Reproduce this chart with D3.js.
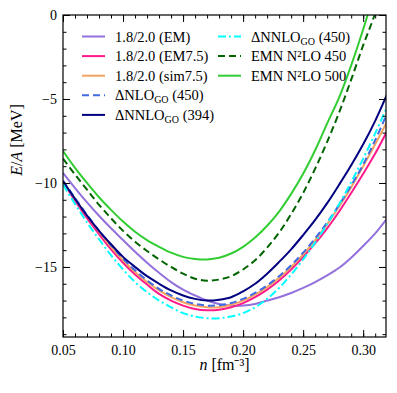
<!DOCTYPE html>
<html>
<head>
<meta charset="utf-8">
<script src="https://cdn.jsdelivr.net/npm/d3@7"></script>
<style>
  body { margin: 0; background: #fff; }
</style>
</head>
<body>
<svg width="397" height="393"></svg>
<script>
// density grid [fm^-3]
var density = [0.05, 0.06, 0.07, 0.08, 0.09, 0.10, 0.11, 0.12, 0.13, 0.14,
               0.15, 0.16, 0.17, 0.18, 0.19, 0.20, 0.21, 0.22, 0.23, 0.24,
               0.25, 0.26, 0.27, 0.28, 0.29, 0.30, 0.31, 0.32];

// E/A [MeV] for each interaction
var em = [-9.4, -10.3, -11.15, -11.95, -12.7, -13.4, -14.1, -14.75, -15.35, -15.9,
          -16.35, -16.7, -17.0, -17.2, -17.3, -17.3, -17.2, -17.0, -16.8, -16.55,
          -16.25, -15.9, -15.5, -15.05, -14.45, -13.75, -13.0, -12.1];
var em75 = [-9.95, -11.05, -12.1, -13.05, -13.95, -14.75, -15.45, -16.05, -16.6, -17.0,
            -17.3, -17.5, -17.58, -17.55, -17.4, -17.15, -16.8, -16.35, -15.8, -15.15,
            -14.4, -13.6, -12.7, -11.7, -10.6, -9.45, -8.25, -6.9];
var sim75 = [-9.9, -10.95, -11.95, -12.9, -13.8, -14.6, -15.3, -15.9, -16.4, -16.8,
             -17.1, -17.3, -17.4, -17.4, -17.25, -17.0, -16.65, -16.2, -15.65, -15.0,
             -14.25, -13.4, -12.45, -11.4, -10.25, -9.0, -7.7, -6.35];
var nlo450 = [-9.85, -10.9, -11.9, -12.85, -13.7, -14.5, -15.2, -15.8, -16.3, -16.7,
              -17.0, -17.2, -17.3, -17.28, -17.15, -16.9, -16.55, -16.1, -15.55, -14.9,
              -14.15, -13.3, -12.35, -11.3, -10.15, -8.9, -7.45, -5.85];
var nnlo394 = [-9.9, -10.95, -11.95, -12.85, -13.65, -14.4, -15.0, -15.55, -16.0, -16.4,
               -16.7, -16.9, -17.0, -16.95, -16.8, -16.45, -16.0, -15.4, -14.7, -13.95,
               -13.1, -12.2, -11.2, -10.1, -8.95, -7.7, -6.3, -4.7];
var nnlo450 = [-10.1, -11.25, -12.35, -13.35, -14.3, -15.15, -15.9, -16.5, -17.0, -17.4,
               -17.75, -17.95, -18.05, -18.05, -17.95, -17.75, -17.4, -16.9, -16.25, -15.45,
               -14.55, -13.55, -12.45, -11.25, -9.95, -8.55, -7.05, -5.45];
var emn450 = [-8.55, -9.5, -10.4, -11.3, -12.1, -12.85, -13.5, -14.05, -14.55, -15.0,
              -15.4, -15.7, -15.82, -15.75, -15.55, -15.15, -14.6, -13.85, -12.95, -11.85,
              -10.6, -9.15, -7.55, -5.8, -3.85, -1.8, 0.1, 2.5];
var emn500 = [-8.1, -9.1, -10.0, -10.85, -11.6, -12.3, -12.9, -13.4, -13.8, -14.15,
              -14.4, -14.52, -14.55, -14.45, -14.2, -13.8, -13.25, -12.55, -11.7, -10.65,
              -9.45, -8.05, -6.45, -4.9, -3.0, -0.85, 1.5, 4.0];

var xTicks = [0.05, 0.10, 0.15, 0.20, 0.25, 0.30];
var yTicks = [0, -5, -10, -15];

var series = [
  {name: "1.8/2.0 (EM)", values: em, color: "#9370db", dash: null},
  {name: "1.8/2.0 (EM7.5)", values: em75, color: "#ff1a8c", dash: null},
  {name: "1.8/2.0 (sim7.5)", values: sim75, color: "#f4a460", dash: null},
  {name: "ΔNLO|GO| (450)", values: nlo450, color: "#4169e1", dash: "7,4"},
  {name: "ΔNNLO|GO| (394)", values: nnlo394, color: "#000080", dash: null},
  {name: "ΔNNLO|GO| (450)", values: nnlo450, color: "#00ffff", dash: "8,3,2,3"},
  {name: "EMN N²LO 450", values: emn450, color: "#006400", dash: "7,4"},
  {name: "EMN N²LO 500", values: emn500, color: "#32cd32", dash: null}
];

var FONT = "'Liberation Serif', 'Times New Roman', Times, serif";

var svg = d3.select("svg"),
    margin = {top: 15, right: 11, bottom: 56, left: 63},
    width = +svg.attr("width") - margin.left - margin.right,
    height = +svg.attr("height") - margin.top - margin.bottom;

var x = d3.scaleLinear().domain([0.05, 0.319]).range([0, width]);
var y = d3.scaleLinear().domain([-19.17, 0]).range([height, 0]);

var g = svg.append("g").attr("transform", "translate(" + margin.left + "," + margin.top + ")");

g.append("clipPath").attr("id", "clip")
  .append("rect").attr("width", width).attr("height", height);

var line = d3.line()
    .x(function(d, i) { return x(density[i]); })
    .y(function(d) { return y(d); })
    .curve(d3.curveCatmullRom);

g.append("g").attr("clip-path", "url(#clip)")
  .selectAll("path")
  .data(series)
  .enter().append("path")
    .attr("d", function(d) { return line(d.values); })
    .attr("fill", "none")
    .attr("stroke", function(d) { return d.color; })
    .attr("stroke-width", 2)
    .attr("stroke-dasharray", function(d) { return d.dash; });

// axes: ticks inward on all four sides
var xMinor = d3.range(5, 32).map(function(v) { return v / 100; });
var yMinor = d3.range(-19, 1);

function styleAxis(sel) {
  sel.select(".domain").remove();
  sel.selectAll("line").attr("stroke", "#000").attr("stroke-width", 1);
}

g.append("g").attr("transform", "translate(0," + height + ")")
  .call(d3.axisBottom(x).tickValues(xMinor).tickSize(-3.5).tickFormat(""))
  .call(styleAxis);
g.append("g")
  .call(d3.axisTop(x).tickValues(xMinor).tickSize(-3.5).tickFormat(""))
  .call(styleAxis);
g.append("g")
  .call(d3.axisLeft(y).tickValues(yMinor).tickSize(-3.5).tickFormat(""))
  .call(styleAxis);
g.append("g").attr("transform", "translate(" + width + ",0)")
  .call(d3.axisRight(y).tickValues(yMinor).tickSize(-3.5).tickFormat(""))
  .call(styleAxis);

g.append("g").attr("transform", "translate(0," + height + ")")
  .call(d3.axisBottom(x).tickValues(xTicks).tickSize(-7).tickPadding(8).tickFormat(d3.format(".2f")))
  .call(styleAxis);
g.append("g")
  .call(d3.axisTop(x).tickValues(xTicks).tickSize(-7).tickFormat(""))
  .call(styleAxis);
g.append("g")
  .call(d3.axisLeft(y).tickValues(yTicks).tickSize(-7).tickPadding(6).tickFormat(function(d) { return d < 0 ? "\u2212" + (-d) : d; }))
  .call(styleAxis);
g.append("g").attr("transform", "translate(" + width + ",0)")
  .call(d3.axisRight(y).tickValues(yTicks).tickSize(-7).tickFormat(""))
  .call(styleAxis);

svg.selectAll(".tick text")
  .attr("font-size", "14px")
  .attr("fill", "#000");

g.append("rect")
  .attr("width", width).attr("height", height)
  .attr("fill", "none").attr("stroke", "#000").attr("stroke-width", 1.2);

// axis labels
var xLab = svg.append("text")
  .attr("x", margin.left + width / 2).attr("y", 370)
  .attr("text-anchor", "middle").attr("font-size", "16px");
xLab.append("tspan").attr("font-style", "italic").text("n");
xLab.append("tspan").text(" [fm\u207B\u00B3]");

var yLab = svg.append("text")
  .attr("transform", "translate(22,140) rotate(-90)")
  .attr("text-anchor", "middle").attr("font-size", "16px");
yLab.append("tspan").attr("font-style", "italic").text("E");
yLab.append("tspan").text("/");
yLab.append("tspan").attr("font-style", "italic").text("A");
yLab.append("tspan").text(" [MeV]");

// legend
function legendText(sel, name) {
  var sub = name.split("|");
  if (sub.length === 3) {
    sel.append("tspan").text(sub[0]);
    sel.append("tspan").attr("font-size", "10px").attr("dy", 3).text(sub[1]);
    sel.append("tspan").attr("dy", -3).text(sub[2]);
    return;
  }
  sel.text(name);
}

var legend = svg.append("g").selectAll("g")
  .data(series)
  .enter().append("g")
    .attr("transform", function(d, i) {
      var col = i < 5 ? 0 : 1, row = i < 5 ? i : i - 5;
      return "translate(" + (col === 0 ? 82 : 218) + "," + (36.5 + row * 19.6) + ")";
    });

legend.append("line")
  .attr("x1", 0).attr("x2", 23)
  .attr("stroke", function(d) { return d.color; })
  .attr("stroke-width", 2)
  .attr("stroke-dasharray", function(d) { return d.dash; });

legend.append("text")
  .attr("x", 33).attr("y", 5)
  .attr("font-size", "14.5px")
  .each(function(d) { legendText(d3.select(this), d.name); });

// serif everywhere (the axis sets its own sans-serif otherwise)
svg.selectAll("g").attr("font-family", null);
svg.selectAll("text").style("font-family", FONT);
</script>
</body>
</html>
